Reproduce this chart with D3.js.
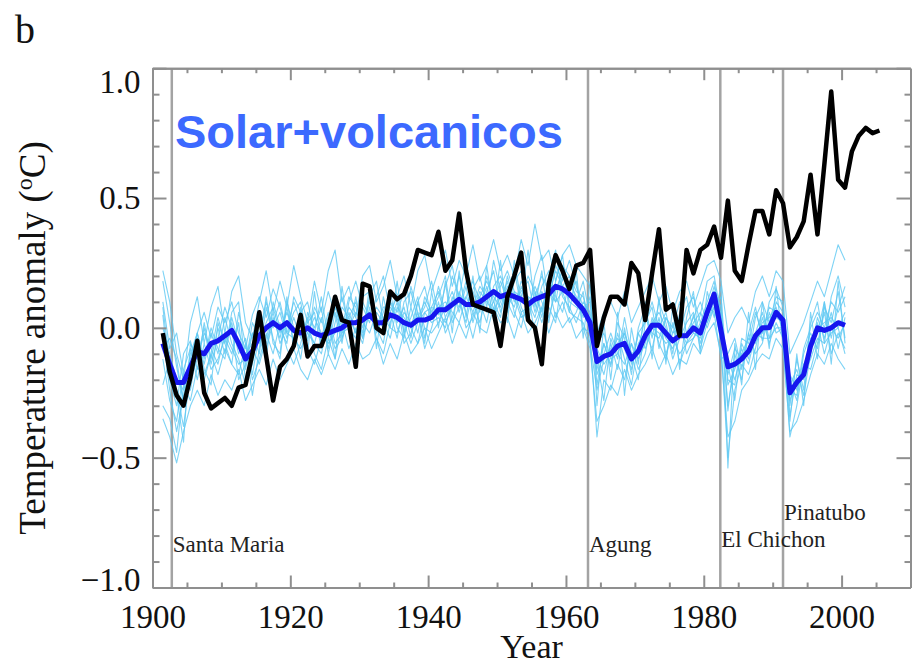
<!DOCTYPE html>
<html>
<head>
<meta charset="utf-8">
<script src="https://cdn.jsdelivr.net/npm/d3@7"></script>
<style>
  body { margin: 0; background: #fff; }
  svg { display: block; }
</style>
</head>
<body>
<div id="graph_field"></div>
<script>
// Observed anomaly (black), one value per year from 1901
let obsStart = 1901;
let observed = [
  -0.02, -0.17, -0.26, -0.30, -0.19, -0.05, -0.25, -0.31, -0.29, -0.27,
  -0.30, -0.23, -0.22, -0.10, 0.06, -0.11, -0.28, -0.15, -0.12, -0.07,
  0.05, -0.11, -0.07, -0.07, 0.00, 0.12, 0.03, 0.02, -0.15, 0.17,
  0.16, 0.00, -0.02, 0.14, 0.11, 0.13, 0.20, 0.30, 0.29, 0.28,
  0.37, 0.22, 0.26, 0.44, 0.22, 0.09, 0.08, 0.07, 0.06, -0.07,
  0.12, 0.20, 0.29, 0.03, 0.00, -0.14, 0.17, 0.28, 0.22, 0.15,
  0.24, 0.25, 0.30, -0.07, 0.04, 0.12, 0.12, 0.09, 0.25, 0.21,
  0.03, 0.21, 0.38, 0.07, 0.09, -0.03, 0.30, 0.21, 0.30, 0.32,
  0.39, 0.27, 0.49, 0.22, 0.18, 0.32, 0.45, 0.45, 0.36, 0.53,
  0.48, 0.31, 0.35, 0.41, 0.59, 0.36, 0.63, 0.91, 0.57, 0.54,
  0.68, 0.74, 0.77, 0.75, 0.76
];

// Model runs with solar + volcanic forcing, 1901-2000
let modelStart = 1901;
let ensembleMean = [
  -0.06, -0.14, -0.21, -0.21, -0.15, -0.09, -0.10, -0.06, -0.05, -0.03,
  -0.01, -0.06, -0.12, -0.09, -0.03, 0.00, 0.02, 0.00, 0.02, -0.01,
  -0.02, 0.00, -0.02, -0.03, -0.02, -0.01, 0.00, 0.02, 0.02, 0.03,
  0.05, 0.02, 0.02, 0.05, 0.04, 0.02, 0.01, 0.03, 0.03, 0.04,
  0.07, 0.07, 0.09, 0.11, 0.09, 0.09, 0.10, 0.12, 0.14, 0.12,
  0.13, 0.12, 0.11, 0.09, 0.11, 0.12, 0.13, 0.16, 0.15, 0.13,
  0.10, 0.07, 0.02, -0.13, -0.11, -0.10, -0.07, -0.06, -0.12, -0.09,
  -0.03, 0.01, 0.01, -0.02, -0.05, -0.03, -0.03, 0.00, -0.02, 0.06,
  0.13, -0.01, -0.15, -0.14, -0.12, -0.09, -0.03, 0.00, 0.00, 0.06,
  0.03, -0.25, -0.21, -0.18, -0.07, 0.00, -0.01, 0.00, 0.02, 0.01
];

let runA = [
  0.18, 0.02, -0.15, -0.28, -0.12, -0.02, 0.06, -0.04, 0.08, 0.02,
  0.10, -0.02, -0.08, 0.05, 0.12, 0.04, 0.15, 0.08, -0.02, 0.06,
  0.10, -0.05, 0.08, 0.02, 0.14, 0.05, -0.06, 0.10, 0.18, 0.08,
  0.02, 0.12, 0.20, 0.06, -0.04, 0.10, 0.14, 0.03, 0.08, 0.18,
  0.05, 0.16, 0.24, 0.10, 0.02, 0.15, 0.20, 0.08, 0.26, 0.14,
  0.06, 0.18, 0.22, 0.05, 0.20, 0.28, 0.10, 0.24, 0.18, 0.26,
  0.16, 0.08, 0.10, -0.22, -0.06, -0.15, 0.02, -0.04, -0.18, 0.00,
  0.08, -0.04, 0.10, 0.02, -0.10, 0.06, 0.12, -0.02, 0.05, 0.18,
  0.20, 0.05, -0.32, -0.10, -0.20, -0.02, 0.08, -0.05, 0.10, 0.15,
  0.08, -0.30, -0.12, -0.24, 0.02, 0.10, -0.06, 0.12, 0.20, 0.08
];
let runB = [
  -0.30, -0.35, -0.48, -0.22, -0.28, -0.15, -0.20, -0.10, -0.18, -0.08,
  -0.14, -0.18, -0.06, -0.20, -0.12, -0.02, -0.10, 0.02, -0.08, -0.14,
  -0.06, 0.04, -0.10, -0.16, -0.04, -0.12, 0.02, -0.08, 0.00, -0.06,
  0.08, -0.04, -0.10, 0.02, 0.10, -0.06, -0.02, 0.06, -0.08, 0.00,
  0.10, -0.02, 0.04, 0.14, 0.06, -0.04, 0.08, 0.16, 0.04, 0.10,
  0.18, 0.06, 0.00, 0.12, -0.02, 0.08, 0.16, 0.04, 0.10, 0.02,
  0.06, 0.14, -0.04, -0.42, -0.20, -0.24, -0.14, -0.20, -0.06, -0.16,
  -0.10, 0.04, -0.06, -0.12, 0.02, -0.14, -0.06, 0.05, -0.08, 0.02,
  0.10, -0.06, -0.50, -0.24, -0.14, -0.18, -0.08, 0.04, -0.06, 0.02,
  -0.04, -0.42, -0.30, -0.14, -0.16, -0.06, 0.06, -0.10, -0.02, -0.08
];
let runC = [
  0.05, -0.20, -0.30, -0.10, -0.05, -0.16, 0.02, -0.12, 0.00, -0.10,
  0.06, 0.10, -0.16, -0.02, -0.10, 0.08, -0.04, -0.12, 0.10, 0.00,
  -0.12, 0.06, 0.00, 0.08, -0.10, 0.02, 0.12, 0.00, -0.04, 0.12,
  0.14, -0.02, 0.06, 0.14, 0.00, -0.04, 0.08, -0.02, 0.12, 0.06,
  0.12, 0.20, 0.02, 0.08, 0.18, 0.10, 0.02, 0.14, 0.22, 0.06,
  0.14, 0.22, 0.08, 0.02, 0.14, 0.06, 0.20, 0.30, 0.12, 0.08,
  0.02, 0.10, 0.06, -0.12, -0.28, -0.04, -0.12, 0.04, -0.10, -0.20,
  0.02, 0.10, 0.00, 0.06, -0.06, -0.02, 0.08, 0.12, 0.02, 0.10,
  0.18, 0.02, -0.14, -0.28, -0.06, -0.12, 0.04, 0.10, 0.02, 0.12,
  0.10, -0.20, -0.28, -0.10, -0.02, -0.08, 0.08, 0.02, 0.14, -0.04
];
let runD = [
  -0.22, -0.12, -0.24, -0.38, -0.18, -0.04, -0.14, -0.02, -0.10, 0.04,
  -0.06, -0.12, -0.22, -0.14, 0.02, -0.06, 0.04, -0.04, 0.08, -0.06,
  0.04, -0.08, -0.14, -0.04, 0.06, -0.06, -0.02, 0.08, 0.04, -0.04,
  0.06, 0.00, -0.06, 0.10, 0.02, 0.08, -0.04, 0.10, 0.00, -0.02,
  0.02, 0.08, 0.14, 0.06, 0.16, 0.02, 0.12, 0.06, 0.10, 0.18,
  0.10, 0.04, 0.16, 0.10, 0.04, 0.14, 0.08, 0.02, 0.20, 0.14,
  0.18, 0.00, -0.02, -0.16, -0.06, -0.14, -0.02, -0.12, -0.22, -0.06,
  -0.02, -0.08, 0.04, -0.10, -0.02, 0.04, -0.10, -0.04, 0.00, 0.08,
  0.06, -0.12, -0.10, -0.04, -0.16, -0.02, -0.10, -0.06, 0.06, -0.02,
  0.00, -0.22, -0.16, -0.26, -0.10, 0.04, -0.04, 0.06, -0.08, 0.04
];
let runE = [
  0.10, -0.08, -0.02, -0.18, -0.24, -0.08, -0.18, -0.10, 0.04, -0.06,
  0.02, -0.10, -0.04, -0.18, -0.02, 0.10, 0.00, 0.06, -0.04, 0.04,
  -0.04, 0.02, 0.06, -0.08, 0.00, 0.10, -0.04, 0.04, 0.10, 0.00,
  0.10, 0.04, 0.00, 0.06, 0.12, -0.02, 0.04, 0.12, -0.04, 0.08,
  0.14, 0.04, 0.10, 0.20, 0.08, 0.14, 0.06, 0.20, 0.10, 0.04,
  0.20, 0.10, 0.14, 0.18, 0.06, 0.16, 0.22, 0.12, 0.06, 0.18,
  0.12, 0.04, 0.12, -0.18, -0.10, -0.02, -0.10, -0.14, -0.06, -0.12,
  -0.06, 0.02, 0.06, 0.00, -0.12, -0.04, 0.02, 0.06, -0.06, 0.04,
  0.14, 0.08, -0.22, -0.16, -0.08, -0.14, -0.02, 0.06, -0.04, 0.10,
  0.06, -0.34, -0.18, -0.20, -0.04, -0.02, 0.10, -0.04, 0.08, 0.16
];
let runF = [
  -0.12, -0.28, -0.36, -0.16, -0.08, -0.20, -0.06, -0.16, -0.12, -0.04,
  -0.10, 0.02, -0.20, -0.08, -0.14, -0.04, 0.06, -0.06, 0.00, 0.10,
  0.02, -0.02, -0.06, 0.04, -0.08, 0.06, -0.02, 0.00, 0.06, 0.02,
  -0.02, 0.06, 0.02, -0.04, 0.08, 0.04, 0.00, -0.06, 0.06, 0.02,
  0.04, 0.00, 0.12, 0.08, 0.12, 0.06, 0.14, 0.10, 0.06, 0.12,
  0.08, 0.14, 0.06, 0.08, 0.16, 0.10, 0.04, 0.14, 0.22, 0.10,
  0.08, 0.06, 0.00, -0.08, -0.14, -0.10, -0.04, -0.08, -0.16, -0.02,
  -0.08, 0.00, -0.02, -0.06, -0.04, -0.10, -0.06, -0.04, 0.02, 0.04,
  0.12, -0.02, -0.18, -0.08, -0.12, -0.08, -0.04, -0.02, 0.02, 0.04,
  0.02, -0.26, -0.20, -0.16, -0.06, 0.02, -0.10, 0.00, -0.04, 0.02
];
let runG = [
  0.00, -0.10, -0.20, -0.24, -0.10, -0.02, -0.12, 0.00, -0.08, -0.12,
  0.04, -0.06, -0.10, -0.06, 0.04, -0.08, 0.02, 0.10, -0.02, -0.04,
  -0.08, -0.02, 0.04, -0.02, -0.06, -0.02, 0.08, 0.04, -0.02, 0.10,
  0.04, 0.08, 0.04, 0.00, -0.02, 0.06, 0.02, 0.04, 0.10, 0.04,
  0.08, 0.10, 0.06, 0.02, 0.12, 0.18, 0.10, 0.02, 0.16, 0.20,
  0.12, 0.08, 0.18, 0.12, 0.10, 0.02, 0.12, 0.22, 0.16, 0.20,
  0.14, 0.12, 0.02, -0.06, -0.02, -0.12, -0.10, -0.02, -0.10, -0.08,
  0.04, -0.02, -0.04, 0.04, -0.02, 0.00, -0.04, 0.02, 0.06, 0.00,
  0.08, -0.04, -0.12, -0.20, -0.10, -0.04, -0.06, 0.02, 0.04, 0.08,
  -0.02, -0.18, -0.24, -0.14, -0.08, 0.00, 0.02, 0.04, 0.00, 0.06
];
let runH = [
  -0.08, -0.04, -0.12, -0.30, -0.20, -0.12, -0.02, -0.08, -0.14, -0.02,
  -0.08, -0.14, -0.12, -0.02, -0.06, 0.02, 0.08, -0.02, 0.06, -0.02,
  -0.02, 0.00, -0.06, -0.10, 0.02, -0.08, -0.04, 0.06, -0.02, 0.04,
  0.06, 0.00, 0.08, 0.08, 0.04, 0.02, -0.06, 0.02, 0.06, 0.08,
  0.06, 0.02, 0.08, 0.12, 0.00, 0.04, 0.12, 0.18, 0.12, 0.08,
  0.16, 0.12, 0.04, 0.06, 0.12, 0.20, 0.14, 0.10, 0.14, 0.06,
  0.04, 0.02, -0.06, -0.24, -0.12, -0.08, -0.06, -0.02, -0.12, -0.08,
  -0.04, 0.02, 0.02, -0.04, -0.08, 0.00, -0.06, -0.02, -0.04, 0.06,
  0.16, 0.04, -0.30, -0.14, -0.10, -0.10, -0.02, -0.04, -0.04, 0.00,
  0.00, -0.28, -0.20, -0.18, -0.12, -0.04, -0.06, -0.02, 0.00, -0.10
];
let runI = [
  0.22, 0.10, -0.10, -0.20, 0.02, 0.12, -0.06, 0.08, 0.16, -0.02,
  0.14, 0.20, 0.02, -0.04, 0.10, 0.22, 0.06, 0.18, 0.08, 0.24,
  0.12, 0.02, 0.18, 0.06, 0.22, 0.30, 0.10, 0.16, 0.04, 0.20,
  0.24, 0.10, 0.16, 0.26, 0.12, 0.20, 0.08, 0.22, 0.28, 0.14,
  0.22, 0.30, 0.16, 0.26, 0.20, 0.32, 0.18, 0.24, 0.34, 0.22,
  0.28, 0.20, 0.34, 0.24, 0.40, 0.26, 0.30, 0.18, 0.28, 0.32,
  0.24, 0.20, 0.16, -0.02, 0.06, 0.10, 0.04, 0.14, 0.02, 0.08,
  0.14, 0.20, 0.10, 0.16, 0.06, 0.14, 0.18, 0.08, 0.16, 0.24,
  0.26, 0.18, -0.02, 0.04, 0.08, 0.02, 0.14, 0.20, 0.12, 0.22,
  0.18, -0.10, -0.04, 0.02, 0.10, 0.18, 0.12, 0.22, 0.32, 0.26
];
let runJ = [
  -0.35, -0.42, -0.52, -0.40, -0.30, -0.24, -0.30, -0.18, -0.26, -0.20,
  -0.24, -0.16, -0.28, -0.22, -0.16, -0.22, -0.12, -0.20, -0.14, -0.08,
  -0.16, -0.20, -0.12, -0.18, -0.10, -0.16, -0.08, -0.14, -0.06, -0.12,
  -0.10, -0.04, -0.14, -0.06, -0.12, -0.02, -0.10, -0.06, 0.00, -0.08,
  -0.02, 0.04, -0.06, 0.02, -0.04, 0.06, 0.00, -0.02, 0.08, 0.02,
  0.04, -0.04, 0.06, -0.02, 0.02, 0.08, -0.02, 0.06, 0.00, 0.04,
  -0.04, 0.00, -0.08, -0.36, -0.30, -0.22, -0.26, -0.16, -0.24, -0.18,
  -0.14, -0.08, -0.16, -0.10, -0.18, -0.12, -0.14, -0.06, -0.10, -0.02,
  0.02, -0.10, -0.42, -0.36, -0.24, -0.20, -0.14, -0.10, -0.12, -0.04,
  -0.08, -0.40, -0.36, -0.28, -0.18, -0.10, -0.14, -0.06, -0.12, -0.16
];
let runK = [
  -0.02, -0.24, -0.40, -0.26, -0.14, -0.02, -0.16, -0.22, 0.02, -0.06,
  -0.14, 0.06, -0.06, -0.26, -0.08, 0.12, -0.06, -0.10, 0.12, -0.08,
  0.08, -0.10, 0.14, -0.06, 0.04, -0.12, 0.16, -0.02, 0.12, -0.04,
  0.16, -0.08, 0.12, 0.00, 0.18, -0.02, 0.16, 0.06, -0.06, 0.14,
  0.00, 0.18, -0.02, 0.22, 0.04, 0.20, -0.02, 0.24, 0.06, 0.26,
  0.02, 0.26, 0.10, 0.30, 0.08, 0.22, 0.02, 0.18, 0.28, 0.06,
  0.22, -0.04, 0.18, -0.30, 0.02, -0.20, 0.06, -0.26, 0.00, -0.14,
  0.10, -0.12, 0.12, -0.14, 0.08, -0.16, 0.04, 0.14, -0.10, 0.14,
  0.04, 0.16, -0.54, -0.06, -0.22, 0.06, -0.16, 0.10, -0.08, 0.16,
  -0.06, -0.36, -0.10, -0.30, 0.06, -0.12, 0.10, -0.14, 0.18, -0.06
];
let runL = [
  0.08, -0.14, -0.26, -0.44, -0.06, -0.12, 0.00, -0.14, -0.04, 0.08,
  0.00, -0.20, -0.14, 0.02, -0.04, -0.12, 0.10, 0.00, -0.06, 0.12,
  0.06, 0.10, -0.02, 0.12, -0.04, 0.08, 0.00, 0.12, 0.08, -0.02,
  0.12, 0.18, 0.02, 0.10, 0.06, 0.14, 0.00, 0.10, 0.16, 0.04,
  0.16, 0.06, 0.20, 0.12, 0.26, 0.08, 0.16, 0.12, 0.04, 0.16,
  0.22, 0.14, 0.12, 0.20, 0.14, 0.04, 0.18, 0.10, 0.24, 0.20,
  0.10, 0.18, 0.04, -0.10, -0.18, -0.06, -0.16, 0.00, -0.14, -0.02,
  0.02, 0.08, -0.08, 0.04, 0.00, 0.10, -0.02, 0.04, 0.10, 0.02,
  0.08, 0.12, -0.20, -0.22, -0.04, -0.06, 0.06, -0.02, 0.08, 0.06,
  0.04, -0.24, -0.26, -0.08, 0.00, 0.06, 0.00, 0.10, 0.06, 0.12
];
let runs = [runA, runB, runC, runD, runE, runF, runG, runH, runI, runJ, runK, runL];

// Volcanic eruptions marked with vertical lines
let volcanoNames = ["Santa Maria", "Agung", "El Chichon", "Pinatubo"];
let volcanoYears = [1902.8, 1963.2, 1982.4, 1991.5];

let xTicks = [1900, 1920, 1940, 1960, 1980, 2000];
let xMinorTicks = d3.range(1905, 2010, 5).filter(function(t) { return t % 20 !== 0; });
let yTicks = [-1.0, -0.5, 0.0, 0.5, 1.0];
let yMinorTicks = [-0.9, -0.8, -0.7, -0.6, -0.4, -0.3, -0.2, -0.1, 0.1, 0.2, 0.3, 0.4, 0.6, 0.7, 0.8, 0.9];

function renderChart() {
    let width = 914;
    let height = 668;
    // plot box in page pixels
    let left = 152.5, right = 910.5, top = 68.2, bottom = 587.5;
    let axisColor = "#8f8f8f";
    let serif = "'Liberation Serif', 'Times New Roman', serif";

    let svg = d3.select("#graph_field")
        .append("svg")
        .attr("width", width)
        .attr("height", height);

    let x = d3.scaleLinear().domain([1900, 2010]).range([left, right]);
    let y = d3.scaleLinear().domain([-1, 1]).range([bottom, top]);

    // annual values are drawn at mid-year
    function lineFrom(start) {
        return d3.line()
            .x(function(d, i) { return x(start + i + 0.5); })
            .y(function(d) { return y(d); });
    }

    // volcano markers (behind the curves)
    svg.append("g")
        .selectAll("line")
        .data(volcanoYears)
        .join("line")
        .attr("x1", function(d) { return x(d); })
        .attr("x2", function(d) { return x(d); })
        .attr("y1", y(-1))
        .attr("y2", y(1))
        .attr("stroke", "#a3a3a3")
        .attr("stroke-width", 2.5);

    // label heights in data units (annotation layout)
    let labelLevel = [-0.862, -0.862, -0.845, -0.74];
    svg.append("g")
        .selectAll("text")
        .data(volcanoNames)
        .join("text")
        .attr("x", function(d, i) { return x(volcanoYears[i]) + 1; })
        .attr("y", function(d, i) { return y(labelLevel[i]); })
        .attr("font-family", serif)
        .attr("font-size", 23)
        .attr("fill", "#222")
        .text(function(d) { return d; });

    // ensemble members
    svg.append("g")
        .selectAll("path")
        .data(runs)
        .join("path")
        .attr("d", lineFrom(modelStart))
        .attr("fill", "none")
        .attr("stroke", "#5ec8f2")
        .attr("stroke-opacity", 0.8)
        .attr("stroke-width", 1.1)
        .attr("stroke-linejoin", "round");

    // ensemble mean
    svg.append("path")
        .datum(ensembleMean)
        .attr("d", lineFrom(modelStart))
        .attr("fill", "none")
        .attr("stroke", "#1616ee")
        .attr("stroke-width", 5)
        .attr("stroke-linejoin", "round");

    // observations
    svg.append("path")
        .datum(observed)
        .attr("d", lineFrom(obsStart))
        .attr("fill", "none")
        .attr("stroke", "#000")
        .attr("stroke-width", 4.5)
        .attr("stroke-linejoin", "round");

    // axes: ticks point inward on all four sides
    function styleAxis(g) {
        g.selectAll("path, line").attr("stroke", axisColor).attr("stroke-width", 2);
        g.selectAll("text")
            .attr("font-family", serif)
            .attr("font-size", 33)
            .attr("fill", "#111");
    }

    svg.append("g")
        .attr("transform", "translate(0," + bottom + ")")
        .call(d3.axisBottom(x).tickValues(xTicks).tickSize(-12).tickSizeOuter(0).tickPadding(17).tickFormat(d3.format("d")))
        .call(styleAxis);
    svg.append("g")
        .attr("transform", "translate(0," + bottom + ")")
        .call(d3.axisBottom(x).tickValues(xMinorTicks).tickSize(-5).tickSizeOuter(0).tickFormat(""))
        .call(styleAxis);
    svg.append("g")
        .attr("transform", "translate(0," + top + ")")
        .call(d3.axisTop(x).tickValues(xTicks).tickSize(-12).tickSizeOuter(0).tickFormat(""))
        .call(styleAxis);
    svg.append("g")
        .attr("transform", "translate(0," + top + ")")
        .call(d3.axisTop(x).tickValues(xMinorTicks).tickSize(-5).tickSizeOuter(0).tickFormat(""))
        .call(styleAxis);

    let yAxis = svg.append("g")
        .attr("transform", "translate(" + left + ",0)")
        .call(d3.axisLeft(y).tickValues(yTicks).tickSize(-14).tickSizeOuter(0).tickPadding(12).tickFormat(d3.format(".1f")))
        .call(styleAxis);
    // end labels sit inside the box like the original plot
    yAxis.selectAll(".tick text")
        .attr("dy", function(d) { return d === 1 ? "0.75em" : (d === -1 ? "0.1em" : "0.32em"); });
    svg.append("g")
        .attr("transform", "translate(" + left + ",0)")
        .call(d3.axisLeft(y).tickValues(yMinorTicks).tickSize(-7).tickSizeOuter(0).tickFormat(""))
        .call(styleAxis);
    svg.append("g")
        .attr("transform", "translate(" + right + ",0)")
        .call(d3.axisRight(y).tickValues(yTicks).tickSize(-14).tickSizeOuter(0).tickFormat(""))
        .call(styleAxis);
    svg.append("g")
        .attr("transform", "translate(" + right + ",0)")
        .call(d3.axisRight(y).tickValues(yMinorTicks).tickSize(-6).tickSizeOuter(0).tickFormat(""))
        .call(styleAxis);

    // axis titles
    svg.append("text")
        .attr("x", (left + right) / 2)
        .attr("y", 658)
        .attr("text-anchor", "middle")
        .attr("font-family", serif)
        .attr("font-size", 34)
        .attr("fill", "#111")
        .text("Year");

    let yTitle = svg.append("text")
        .attr("transform", "translate(45," + 338 + ") rotate(-90)")
        .attr("text-anchor", "middle")
        .attr("font-family", serif)
        .attr("font-size", 37)
        .attr("fill", "#111");
    yTitle.append("tspan").text("Temperature anomaly (");
    yTitle.append("tspan").attr("font-size", 24).attr("dy", -13).text("o");
    yTitle.append("tspan").attr("dy", 13).text("C)");

    // panel letter and overlay title
    svg.append("text")
        .attr("x", 15)
        .attr("y", 43)
        .attr("font-family", serif)
        .attr("font-size", 40)
        .attr("fill", "#111")
        .text("b");

    svg.append("text")
        .attr("x", 175)
        .attr("y", 148)
        .attr("font-family", "'Liberation Sans', Arial, sans-serif")
        .attr("font-weight", "bold")
        .attr("font-size", 47)
        .attr("fill", "#3c69ff")
        .text("Solar+volcanicos");
}

renderChart();
</script>
</body>
</html>
